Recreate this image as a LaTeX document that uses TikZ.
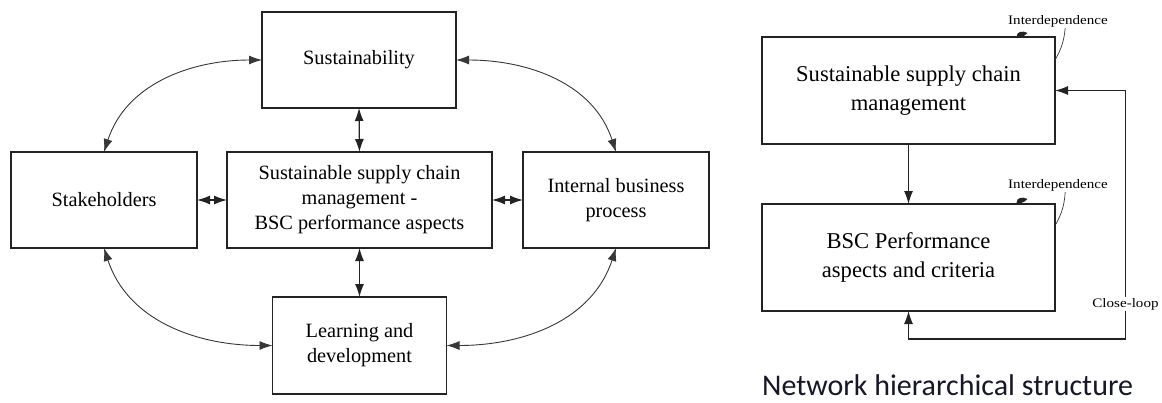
\documentclass[tikz,border=0pt]{standalone}
\usepackage{fontspec}
\setmainfont{Liberation Serif}
\newfontfamily\netfont{Carlito}
\usetikzlibrary{arrows.meta}
\definecolor{boxline}{RGB}{35,35,35}
\definecolor{curveline}{RGB}{55,55,55}
\definecolor{titlecol}{RGB}{22,24,40}
\tikzset{
  lbox/.style={draw=boxline, line width=1.2pt, minimum width=#1, inner sep=0pt, outer sep=0pt,
     align=center, font=\fontsize{20.3}{25}\selectfont},
  rbox/.style={draw=boxline, line width=1.2pt, minimum width=293pt, minimum height=107pt, inner sep=0pt, outer sep=0pt,
     align=center, font=\fontsize{22.6}{28.5}\selectfont},
  tip/.tip={Latex[length=13pt,width=9pt]},
  dbl/.style={tip-tip, line width=1.2pt, draw=boxline},
  curv/.style={tip-tip, line width=0.9pt, draw=curveline},
  sgl/.style={-tip, line width=1.2pt, draw=boxline},
  smalllbl/.style={font=\fontsize{13}{15}\selectfont, xscale=1.16, inner sep=1pt},
}
\begin{document}
\begin{tikzpicture}[x=1pt,y=1pt]
\useasboundingbox[fill=white] (0,0) rectangle (1162,-402);
% left diagram
\node[lbox=194pt, minimum height=96pt] (sus) at (359,-60) {Sustainability};
\node[lbox=186pt, minimum height=96pt] (stk) at (104,-200) {Stakeholders};
\node[lbox=265pt, minimum height=96pt] (ctr) at (359.5,-200) {Sustainable supply chain\\management -\\BSC performance aspects};
\node[lbox=186pt, minimum height=96pt] (ibp) at (616,-200) {Internal business\\process};
\node[lbox=174pt, minimum height=97pt] (lrn) at (359.5,-345.5) {Learning and\\development};

\draw[dbl] (sus.south) -- (ctr.north);
\draw[dbl] (ctr.south) -- (lrn.north);
\draw[dbl] (stk.east) -- (ctr.west);
\draw[dbl] (ctr.east) -- (ibp.west);

\draw[curv] (sus.west) to[out=180,in=72] (stk.north);
\draw[curv] (sus.east) to[out=0,in=108] (ibp.north);
\draw[curv] (stk.south) to[out=-72,in=180] (lrn.west);
\draw[curv] (ibp.south) to[out=-108,in=0] (lrn.east);

% right diagram
\node[rbox] (sscm) at (908.5,-90.5) {Sustainable supply chain\\management};
\node[rbox] (bsc) at (908.5,-257.5) {BSC Performance\\aspects and criteria};
\draw[sgl] (sscm.south) -- (bsc.north);

\coordinate (lb) at (908.5,-339);
\coordinate (lr) at (1125.5,-339);
\draw[dbl] (bsc.south) -- (lb) -- (lr) |- (sscm.east);
\node[smalllbl, fill=white] (cl) at (1125.5,-304) {Close-loop};

\node[smalllbl] (int1) at (1058,-21) {Interdependence};
\node[smalllbl] (int2) at (1058,-185) {Interdependence};
\coordinate (c1) at (1055,-60);
\coordinate (c2) at (1056,-224);
\draw[line width=0.7pt, draw=curveline] (int1.south east) ++(-44pt,0) coordinate (s1) (s1) to[bend left=12] (c1);
\draw[line width=0.7pt, draw=curveline] (int2.south east) ++(-44pt,0) coordinate (s2) (s2) to[bend left=12] (c2);

\fill[boxline] (1016.5,-37) .. controls (1016.5,-31) and (1023,-30.5) .. (1027.5,-33) -- (1024.5,-35.5) .. controls (1023,-37) .. (1021,-37) -- cycle;
\fill[boxline] (1016.5,-203) .. controls (1016.5,-197) and (1023,-196.5) .. (1027.5,-199) -- (1024.5,-201.5) .. controls (1023,-203) .. (1021,-203) -- cycle;

\node[anchor=base west, inner sep=0pt, text=titlecol, font=\netfont\fontsize{30}{36}\selectfont] (title) at (762,-395.5) {Network hierarchical structure};
\end{tikzpicture}
\end{document}
